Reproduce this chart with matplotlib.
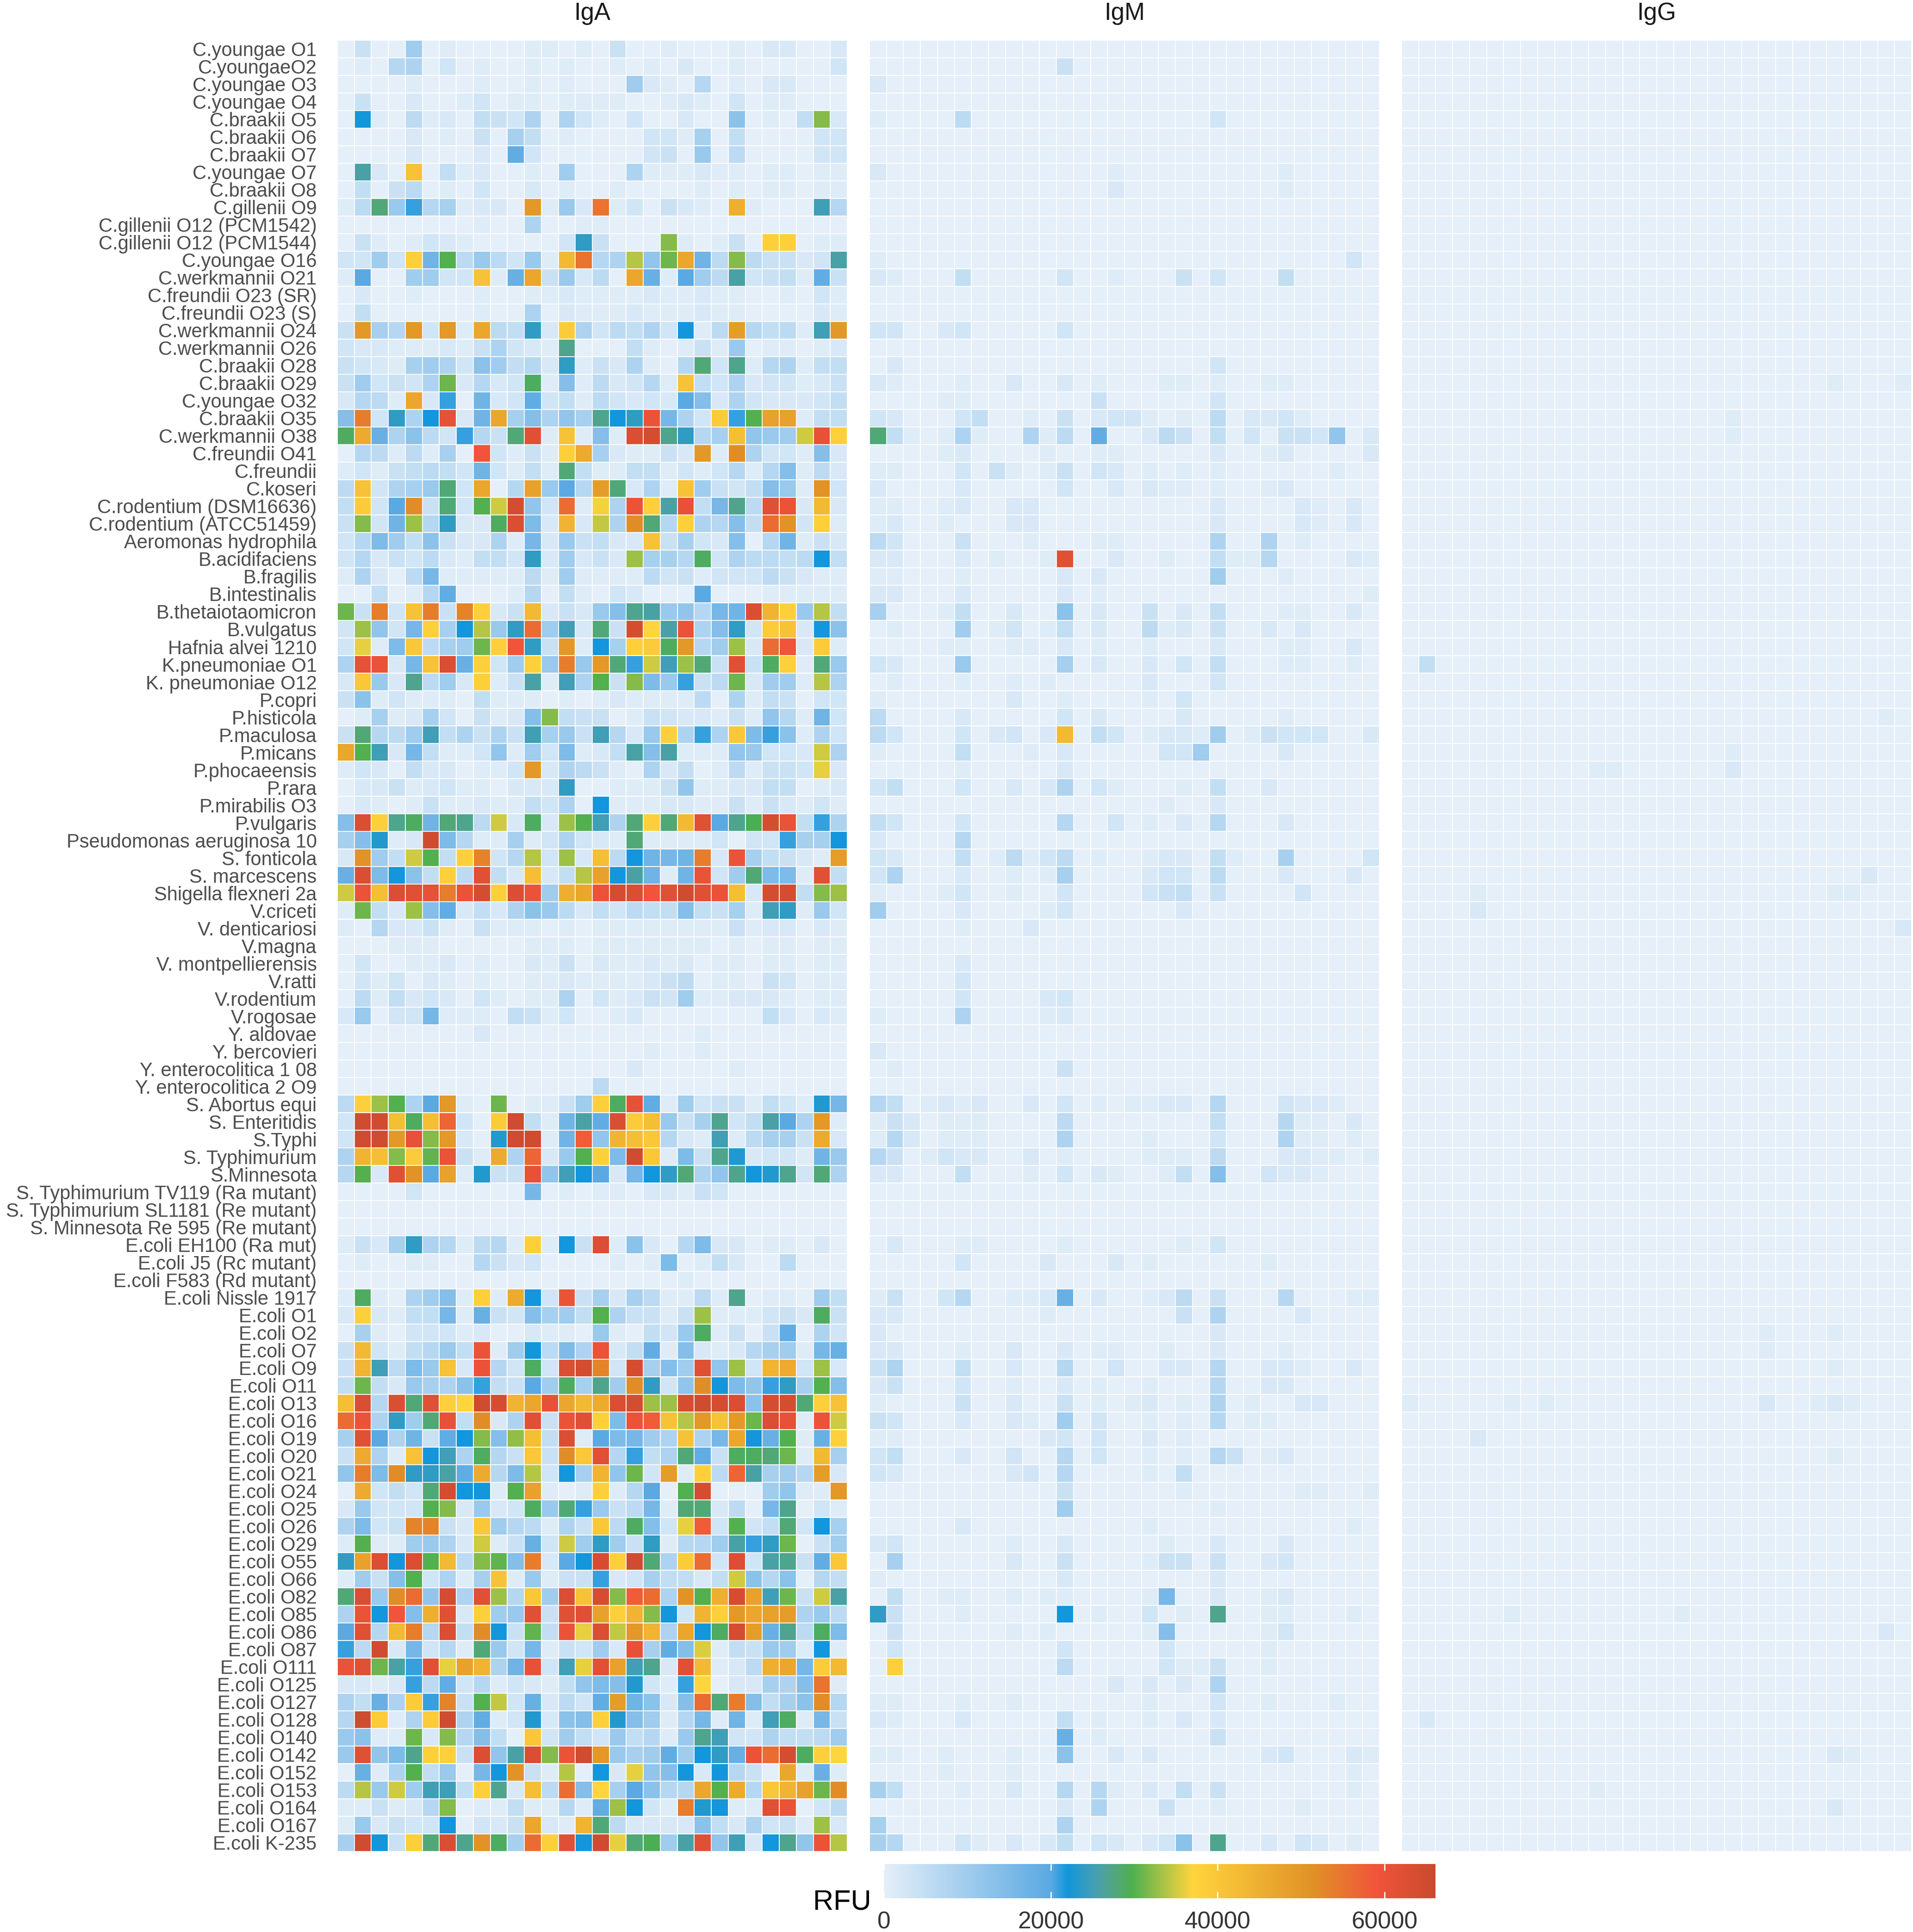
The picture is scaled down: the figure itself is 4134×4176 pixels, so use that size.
import numpy as np
import matplotlib
matplotlib.use('Agg')
import matplotlib.pyplot as plt
from matplotlib.colors import LinearSegmentedColormap

plt.rcParams['font.family'] = ['Liberation Sans', 'DejaVu Sans']

W, H = 4134, 4176
DPI = 100

strains = [
    'C.youngae O1', 'C.youngaeO2', 'C.youngae O3', 'C.youngae O4', 'C.braakii O5',
    'C.braakii O6', 'C.braakii O7', 'C.youngae O7', 'C.braakii O8', 'C.gillenii O9',
    'C.gillenii O12 (PCM1542)', 'C.gillenii O12 (PCM1544)', 'C.youngae O16',
    'C.werkmannii O21', 'C.freundii O23 (SR)', 'C.freundii O23 (S)', 'C.werkmannii O24',
    'C.werkmannii O26', 'C.braakii O28', 'C.braakii O29', 'C.youngae O32', 'C.braakii O35',
    'C.werkmannii O38', 'C.freundii O41', 'C.freundii', 'C.koseri', 'C.rodentium (DSM16636)',
    'C.rodentium (ATCC51459)', 'Aeromonas hydrophila', 'B.acidifaciens', 'B.fragilis',
    'B.intestinalis', 'B.thetaiotaomicron', 'B.vulgatus', 'Hafnia alvei 1210',
    'K.pneumoniae O1', 'K. pneumoniae O12', 'P.copri', 'P.histicola', 'P.maculosa',
    'P.micans', 'P.phocaeensis', 'P.rara', 'P.mirabilis O3', 'P.vulgaris',
    'Pseudomonas aeruginosa 10', 'S. fonticola', 'S. marcescens', 'Shigella flexneri 2a',
    'V.criceti', 'V. denticariosi', 'V.magna', 'V. montpellierensis', 'V.ratti',
    'V.rodentium', 'V.rogosae', 'Y. aldovae', 'Y. bercovieri', 'Y. enterocolitica 1 08',
    'Y. enterocolitica 2 O9', 'S. Abortus equi', 'S. Enteritidis', 'S.Typhi',
    'S. Typhimurium', 'S.Minnesota', 'S. Typhimurium TV119 (Ra mutant)',
    'S. Typhimurium SL1181 (Re mutant)', 'S. Minnesota Re 595 (Re mutant)',
    'E.coli EH100 (Ra mut)', 'E.coli J5 (Rc mutant)', 'E.coli F583 (Rd mutant)',
    'E.coli Nissle 1917', 'E.coli O1', 'E.coli O2', 'E.coli O7', 'E.coli O9', 'E.coli O11',
    'E.coli O13', 'E.coli O16', 'E.coli O19', 'E.coli O20', 'E.coli O21', 'E.coli O24',
    'E.coli O25', 'E.coli O26', 'E.coli O29', 'E.coli O55', 'E.coli O66', 'E.coli O82',
    'E.coli O85', 'E.coli O86', 'E.coli O87', 'E.coli O111', 'E.coli O125', 'E.coli O127',
    'E.coli O128', 'E.coli O140', 'E.coli O142', 'E.coli O152', 'E.coli O153', 'E.coli O164',
    'E.coli O167', 'E.coli K-235',
]

# IgA, thousands of RFU, one line per strain
iga = [
    [0,4,0,0,10,0,1,0,0,0,0,1,1,0,1,0,4,0,0,1,0,0,0,1,0,2,2,0,0,2],
    [0,1,0,7,8,0,3,0,1,0,0,1,0,1,0,0,1,0,1,0,2,0,0,1,0,0,0,0,0,3],
    [0,0,0,0,1,0,0,0,1,0,0,1,0,1,0,0,0,10,2,1,0,7,0,1,0,2,2,0,0,0],
    [0,4,0,0,2,0,0,1,3,0,1,1,0,1,1,1,1,0,0,1,2,1,0,3,0,1,1,0,0,0],
    [0,22,1,0,6,1,2,0,5,4,3,8,0,8,3,1,0,3,0,0,2,0,0,13,0,1,0,5,32,2],
    [0,0,0,0,2,0,1,0,4,0,9,5,0,1,0,0,0,0,3,3,1,9,0,5,0,0,0,0,3,3],
    [0,0,0,0,2,0,0,0,2,0,19,3,0,0,0,0,0,0,3,4,0,11,0,6,0,0,0,0,3,3],
    [0,26,2,0,41,0,5,1,2,0,0,1,0,10,0,0,0,8,1,1,1,2,1,1,0,1,1,0,1,1],
    [0,5,0,4,6,0,1,0,3,0,0,2,0,1,0,0,1,0,0,0,0,1,0,1,0,1,1,0,1,1],
    [1,6,28,11,21,7,9,1,2,2,0,50,1,11,2,55,1,3,0,4,2,1,0,45,1,0,0,0,25,7],
    [0,0,0,0,0,0,0,0,1,0,0,8,0,0,1,1,0,0,0,0,0,0,0,0,0,0,0,0,0,0],
    [0,4,1,0,1,3,2,1,0,0,0,0,0,3,24,4,0,0,0,32,1,0,1,4,0,38,38,0,1,1],
    [3,3,10,3,38,17,30,6,11,6,3,11,1,43,55,7,8,34,12,31,47,17,6,32,6,4,4,2,3,26],
    [1,20,0,0,10,10,3,3,41,1,18,47,4,11,2,6,0,47,18,1,20,10,6,26,3,4,5,1,19,4],
    [0,2,0,0,1,0,0,0,1,0,0,1,1,2,1,1,1,1,2,1,1,2,1,1,0,0,1,0,3,1],
    [0,5,0,0,0,0,0,0,1,0,0,8,0,2,1,1,1,2,1,1,1,2,1,1,0,0,0,0,2,1],
    [4,50,9,7,50,3,50,1,47,6,5,24,2,39,8,3,6,5,8,3,22,1,6,49,7,5,6,1,25,50],
    [3,2,2,1,1,1,2,1,4,8,3,2,1,27,0,0,0,5,1,0,1,4,1,11,0,1,1,0,1,2],
    [4,3,2,1,9,10,8,3,13,10,5,7,2,24,1,4,2,8,1,0,7,28,3,27,1,7,8,1,5,5],
    [4,10,3,4,3,8,31,2,7,2,3,29,1,14,1,6,2,3,7,1,41,5,3,8,2,3,3,1,2,4],
    [2,7,6,1,47,2,21,0,17,2,3,19,3,5,1,6,3,2,3,2,20,14,2,8,3,2,2,2,3,5],
    [14,54,3,24,8,22,61,2,17,47,9,14,8,12,9,27,22,24,60,16,8,3,39,21,30,48,48,1,5,5],
    [29,46,18,8,13,6,3,21,7,4,28,62,1,41,1,14,1,63,64,27,24,7,9,42,12,11,10,35,61,38],
    [0,7,6,1,6,1,9,0,59,3,1,4,1,38,46,9,2,1,1,4,2,50,1,52,8,3,3,1,14,2],
    [1,3,1,4,5,6,5,3,17,3,1,5,1,28,5,1,1,5,5,1,3,1,3,7,1,7,14,1,6,2],
    [6,41,3,8,9,11,28,3,47,0,7,48,11,20,7,49,28,2,8,1,41,10,4,3,5,14,11,1,51,3],
    [5,39,3,20,52,4,28,3,30,35,64,12,3,56,1,36.5,8,60,38,26,61,5,16,27,6,62,60,2,43,2],
    [4,32,3,17,33,7,24,2,2,29,63,15,2,44,2,34.5,8,52,28,7,38,8,7,14,5,56,51,3,38,1],
    [3,7,15,10,5,13,4,2,2,8,1,16,2,11,4,5,2,2,41,4,9,3,2,14,0,7,17,1,4,2],
    [3,7,2,4,3,6,2,1,5,5,3,24,2,10,2,4,2,33,9,9,7,29,3,8,6,6,5,6,22,5],
    [1,8,2,0,6,16,1,1,1,1,1,6,1,10,1,1,1,1,6,3,4,1,3,3,3,6,4,2,1,1],
    [0,0,5,0,1,7,19,0,0,0,1,7,0,5,1,0,3,2,0,0,0,20,0,0,0,1,1,1,1,1],
    [31,4,54,3,41,54,4,53,38,2,4,43,2,4,2,11,14,27,26,11,12,7,16,17,63,44,38,11,34,5],
    [3,33,12,3,16,38,9,22,34,11,24,56,10,25,2,28,4,64,37,26,60,8,14,24,3,39,41,2,22,13],
    [3,36,1,15,40,6,9,10,31,38,59,24,4,50,1,22,9,38,39,29,50,7,10,33,2,56,59,2,39,1],
    [8,61,60,2,16,41,63,18,38,3,10,38,11,54,11,50,28,21,35,25,33,28,4,62,4,29,38,1,28,11],
    [2,40,11,2,27,6,10,2,38,1,4,26,1,25,8,30,4,32,15,11,21,4,6,31,2,10,10,1,34,8],
    [4,13,1,3,1,1,1,0,5,1,1,1,0,1,0,1,2,1,1,1,1,6,0,8,1,5,4,0,3,3],
    [0,1,9,1,2,9,3,0,4,1,2,14,32,5,4,4,0,1,4,3,2,2,1,4,1,12,7,1,17,3],
    [4,28,7,6,10,25,5,8,4,8,4,25,9,11,4,25,7,2,11,38,8,21,8,40,15,21,13,1,8,3],
    [47,30,25,2,16,5,1,1,3,12,1,10,3,15,1,2,5,26,14,26,1,1,1,12,11,3,3,2,35,8],
    [1,3,2,0,5,2,2,0,1,1,3,50,2,8,6,4,1,0,8,2,5,0,1,6,1,4,4,3,36,2],
    [0,2,2,4,1,2,3,1,1,0,2,2,2,24,0,0,1,1,1,4,12,1,1,2,2,5,5,0,1,2],
    [0,2,1,0,1,4,1,1,2,1,1,5,3,8,0,22,1,1,1,2,2,1,1,4,1,4,2,1,3,1],
    [14,63,38,27,29,17,28,27,6,35,2,29,2,33,30,25,8,28,38,28,43,62,20,27,29.5,64,60,5,21,8],
    [9,14,23,1,2,65,15,7,1,1,9,1,3,8,3,2,1,28,1,1,1,1,3,0,3,3,21,9,9,22],
    [2,51,10,5,35,30,5,38,53,3,7,34,3,33,2,42,6,22,17,16,17,54,2,60,9,5,4,2,1,49],
    [18,63,15,22,13,5,38,6,62,5,2,42,2,5,34,48,22,26,17,1,17,60,3,10,28,15,15,1,62,5],
    [35,60,42,63,62,61,54,60,64,38,63,60,10,45,47,60,64,63,59,62,65,62,60,42,2,64,64,5,32,33],
    [1,31,5,2,33,14,19,2,5,2,8,13,11,6,2,5,3,6,5,5,14,5,4,9,1,25,24,1,11,3],
    [1,0,7,2,2,4,1,0,4,1,1,1,0,1,0,1,1,1,1,1,1,1,1,4,1,2,2,0,2,1],
    [0,0,0,1,1,1,0,0,0,0,0,1,1,1,0,1,1,1,1,1,1,1,0,1,0,1,1,0,1,1],
    [0,3,0,0,1,1,2,0,1,0,0,2,1,4,0,2,1,1,2,1,2,0,1,1,0,1,1,0,1,1],
    [0,3,1,3,0,2,1,0,1,0,0,1,1,2,1,1,1,1,2,4,6,0,1,1,0,4,3,0,1,1],
    [0,6,1,5,2,3,2,0,3,1,0,1,1,8,0,3,1,2,4,3,10,1,1,2,2,2,1,0,1,1],
    [2,11,0,3,3,16,1,1,1,0,5,4,1,3,0,0,1,2,0,0,0,0,0,0,0,5,2,0,2,1],
    [0,0,0,0,0,0,0,0,2,0,0,0,0,0,0,0,0,0,0,0,0,1,0,0,0,0,0,0,0,0],
    [0,0,0,0,0,0,0,0,0,0,0,0,0,0,0,0,0,0,1,0,0,1,0,0,0,0,0,0,0,0],
    [0,0,0,0,0,0,0,0,0,0,0,0,0,0,0,0,0,2,0,0,0,0,0,1,0,0,0,0,0,0],
    [0,0,0,0,0,0,0,0,0,0,0,0,0,0,0,6,0,0,0,0,0,0,0,0,0,0,0,0,0,0],
    [6,38,33,30,8,20,50,1,0,31,0,1,1,4,10,38,29,61,19,1,10,3,4,4,1,5,3,1,23,16],
    [3,65,65,42,29,42,57,3,0,39,65,5,1,17,26,19,63,39,42,11,4,9,27,3,5,26,20,8,50,1],
    [3,65,65,50,61,32,50,2,0,23,65,65,1,17,58,12,44,42,40,7,2,1,25,1,6,9,9,4,46,2],
    [8,44,42,32,39,30.5,60,4,1,46,8,57,2,11,30,38,15,65,40,1,15,4,27,23,2,3,3,1,17,11],
    [7,30,2,62,51,20,48,1,23,4,4,61,12,25,22,20,2,16,22,24,28,8,12,27,22,23,27,3,28,8],
    [0,0,0,0,3,0,0,0,0,0,0,16,0,1,0,1,1,0,2,2,1,4,3,0,0,0,0,0,0,0],
    [0,0,0,0,0,0,0,0,0,0,0,0,0,0,0,0,0,0,0,0,0,0,0,0,0,0,0,0,0,0],
    [0,0,0,0,0,0,0,0,0,0,0,0,0,0,0,0,0,0,0,0,0,0,0,0,0,0,0,0,0,0],
    [1,4,2,9,24,8,7,1,6,7,1,38,1,22,4,63,1,13,2,0,7,15,2,2,0,1,1,0,2,0],
    [0,1,0,0,1,1,0,0,7,4,2,3,0,0,0,0,1,0,1,15,0,1,5,2,0,0,6,0,0,0],
    [0,0,0,0,0,0,0,0,0,0,0,0,0,0,0,0,0,0,0,0,1,0,0,0,0,0,0,0,0,0],
    [1,29,1,0,8,10,14,1,38,1,46,22,3,60,4,9,2,9,6,1,1,6,1,27,0,1,1,0,10,5],
    [2,38,2,1,5,5,16,1,18,4,3,14,9,10,5,30,8,4,4,1,4,33,1,1,1,3,4,2,29,4],
    [0,9,1,0,3,3,3,1,2,0,0,2,1,1,0,11,1,0,5,3,11,29,1,4,0,4,19,0,8,3],
    [4,43,3,1,5,7,11,5,60,1,10,22,6,15,8,60,2,5,19,1,14,2,1,2,7,9,10,1,16,18],
    [4,44,25,6,15,11,41,2,60,7,3,29,3,63,64,53,3,64,9,14,10,62,12,33,3,44,46,3,33,2],
    [5,31,5,2,11,9,8,13,21,5,4,20,10,29,9,27,10,52,24,3,12,52,22,15,12,21,24,9,30,14],
    [42,63,7,63,28,62,38,37,65,64,44,47,61,47,43,46,63,64,33,33,64,65,64,63,13,64,64,28,38,41],
    [56,60,8,24,10,28,61,5,52,2,8,62,4,60,62,38,15,60,58,41,34,50,41,50,31,63,61,1,60,35],
    [9,62,20,8,17,4,19,22,32,14,32.5,42,5,63,1,20,15,16,10,8,41,8,16,47,22,18,30,1,18,38],
    [4,46,8,1,41,22,25,8,29,7,4,40,4,52,40,62,7,21,5,8,28,19,4,29,29,28,31,1,43,9],
    [12,54,15,52,24,24,26,19,46,7,15,34,3,22,9,44,12,31,3,49,1,38,6,57,26,9,10,7,49,2],
    [0,46,3,5,3,28,64,22,22,1,30,48,1,0,1,38,1,7,20,0,30,64,0,0,0,10,12,1,1,50],
    [2,11,3,3,3,30,32,2,11,2,3,29,11,28,21,11,4,6,16,1,28,28,2,6,0,16,27,0,3,1],
    [8,15,3,4,53,53,4,2,40,10,7,6,1,8,4,40,6,29,14,3,36,58,3,30,3,5,28,3,22,9],
    [1,30,1,1,10,11,8,2,35,1,4,18,3,35,10,24,10,4,24,1,7,7,10,26,21,24,31,0,4,10],
    [24,48,63,22,63,30,43,6,32,30.5,14,54,2,20,22,64,38,65,28,8,39,56,3,63,3,26,27,4,19,40],
    [1,10,4,14,30,3,8,1,9,41,1,11,1,4,4,21,2,3,9,5,5,2,5,35,13,7,13,0,7,5],
    [28,63,11,52,56,12,64,8,62,33,7,40,10,63,41,64,32,58,56,8,51,30,45,64,48,25,31,4,35,26],
    [8,60,22,59,14,45,62,2,38,10,11,62,4,62,62,48,38,44,32,22,3,44,38,50,47,48,49,8,11,6],
    [20,62,7,43,54,7,63,5,52,22,4,30.5,5,60,36,63,34.5,50,44,8,47,22,29,64,49,18,27,6,29,15],
    [21,6,65,2,16,3,7,1,28,11,3,16,1,4,3,10,2,61,9,19,14,35.5,1,5,4,11,10,1,22,1],
    [60,62,31,26,21,62,36,48,44,8,17,61,3,25,36,62,48,25,27,2,62,43,1,2,6,45,47,16,39,43],
    [2,2,1,2,21,6,19,3,7,1,3,2,1,5,12,15,14,23,3,1,21,37,0,2,2,9,8,14,55,1],
    [8,5,18,8,39,21,53,4,30,34.5,3,18,2,6,3,19,49,17,13,2,14,56,28,54,14,5,9,13,52,7],
    [7,65,39,1,8,39,65,8,19,1,3,23,2,13,14,38,23,14,10,1,7,16,1,17,1,25,29,1,16,4],
    [11,13,1,1,31,2,32,7,14,5,0,40,3,10,5,3,11,5,7,1,11,27,25,3,3,8,5,5,6,10],
    [11,62,12,15,27,38,38,4,63,12,26,63,32,60,65,50,11,9,10,19,10,22,24,18,60,56,64,29,38,37],
    [0,18,1,8,30,5,11,0,16,22,51,4,1,34,0,22,2,36,12,14,22,2,22,7,4,0,47,1,18,1],
    [6,34,11,35,10,25,25,5,38,27,2,42,6,56,14,37,9,20,13,7,7,47,30,46,7,40,44,48,31,52],
    [1,1,4,1,2,7,32,0,1,1,5,1,1,7,1,19,33,22,3,1,54,23,22,1,1,62,60,0,3,6],
    [1,11,2,4,3,3,22,0,3,2,4,47,2,1,44,28,6,2,2,2,2,13,5,2,8,3,4,1,33,2],
    [9,65,22,4,38,28,63,27,51,29,9,56,38,62,22,65,36,28,29.5,10,26,62,12,25,2,22,27,12,60,34],
]

# IgM and IgG are nearly flat: strain index (from 1) -> {column: thousands of RFU}
igm = {
    2: {11: 4}, 3: {0: 2}, 5: {0: 1, 5: 6, 20: 3}, 8: {0: 2, 14: 1, 24: 1}, 9: {14: 2, 24: 1},
    13: {0: 1, 28: 3}, 14: {0: 2, 1: 1, 5: 5, 11: 3, 14: 1, 18: 4, 20: 3, 24: 5},
    17: {0: 3, 1: 3, 4: 2, 5: 3, 11: 3}, 19: {1: 2, 20: 3},
    20: {0: 2, 1: 1, 5: 1, 8: 2, 11: 2, 13: 1, 17: 1, 18: 1, 20: 1, 23: 1, 24: 1},
    21: {4: 1, 5: 1, 13: 4, 20: 3},
    22: {0: 3, 1: 2, 5: 3, 6: 5, 9: 1, 11: 4, 13: 2, 14: 3, 15: 3, 16: 1, 18: 1, 20: 6, 22: 2, 23: 2, 24: 3, 25: 1},
    23: {0: 28, 1: 5, 2: 1, 4: 1, 5: 8, 6: 1, 9: 8, 10: 1, 11: 6, 13: 19, 16: 2, 17: 6, 18: 4, 20: 5, 22: 3, 24: 4, 25: 4, 26: 3, 27: 12, 29: 2},
    24: {4: 1, 5: 2, 10: 1, 13: 1, 14: 1, 20: 2, 23: 1, 24: 2, 29: 2},
    25: {0: 1, 1: 1, 5: 3, 7: 4, 8: 1, 10: 1, 11: 4, 13: 3, 14: 2, 16: 1, 18: 1, 20: 1, 27: 1},
    26: {0: 2, 5: 2, 11: 3, 14: 2, 16: 2, 17: 1, 18: 1, 20: 1, 23: 1, 24: 2},
    27: {0: 1, 1: 1, 4: 1, 5: 2, 8: 2, 9: 2, 20: 2, 25: 2, 26: 1, 28: 2},
    28: {0: 1, 1: 2, 4: 1, 8: 2, 9: 2, 20: 2, 25: 2, 26: 1, 28: 2},
    29: {0: 6, 1: 3, 5: 4, 9: 1, 13: 1, 14: 1, 20: 8, 23: 8, 25: 1},
    30: {0: 2, 1: 2, 5: 2, 7: 1, 10: 1, 11: 62, 14: 2, 17: 1, 20: 5, 21: 1, 22: 1, 23: 7, 28: 2, 29: 1},
    31: {0: 1, 1: 1, 5: 1, 11: 2, 13: 2, 20: 10, 24: 1},
    32: {0: 2, 1: 2, 5: 2, 11: 2, 13: 1, 29: 1},
    33: {0: 9, 4: 1, 5: 5, 8: 2, 11: 13, 13: 2, 16: 4, 18: 2, 20: 5, 24: 1, 25: 1, 28: 2},
    34: {1: 1, 5: 10, 7: 1, 8: 3, 10: 1, 11: 5, 13: 2, 16: 6, 17: 1, 18: 2, 20: 4, 23: 2, 25: 2},
    35: {4: 1, 5: 1, 8: 1, 9: 1, 11: 2, 13: 1, 16: 1, 20: 2, 24: 1, 25: 1, 28: 2},
    36: {0: 3, 1: 2, 5: 11, 11: 9, 13: 2, 16: 2, 18: 3, 20: 5, 24: 1, 25: 1, 28: 1},
    37: {1: 1, 5: 1, 8: 1, 10: 1, 16: 2, 20: 3},
    38: {0: 1, 8: 2, 11: 1, 16: 1, 18: 3},
    39: {0: 6, 5: 2, 11: 3, 13: 2, 18: 2, 24: 1},
    40: {0: 6, 1: 3, 5: 3, 7: 2, 8: 3, 10: 2, 11: 43, 13: 5, 14: 3, 16: 1, 17: 2, 18: 2, 19: 1, 20: 10, 22: 1, 23: 4, 24: 3, 25: 3, 26: 3, 29: 2},
    41: {0: 1, 5: 5, 9: 1, 11: 2, 17: 3, 18: 3, 19: 10, 24: 2},
    42: {5: 1, 11: 2},
    43: {0: 3, 1: 5, 5: 3, 8: 2, 10: 2, 11: 8, 13: 3, 14: 1, 18: 1, 20: 5, 23: 2},
    44: {17: 1, 20: 2},
    45: {0: 5, 1: 3, 5: 3, 11: 7, 14: 3, 16: 1, 18: 2, 20: 7, 24: 2},
    46: {0: 2, 5: 7},
    47: {0: 3, 1: 2, 5: 5, 7: 1, 8: 6, 9: 1, 10: 3, 11: 6, 13: 1, 16: 1, 17: 2, 18: 2, 20: 5, 21: 1, 24: 9, 29: 3},
    48: {0: 3, 1: 8, 5: 2, 8: 1, 10: 1, 11: 9, 16: 2, 17: 3, 18: 3, 20: 6, 24: 2, 28: 2},
    49: {0: 1, 4: 1, 5: 3, 8: 1, 11: 3, 16: 3, 17: 4, 18: 5, 20: 4, 25: 3},
    50: {0: 10, 5: 2, 10: 1, 11: 3, 18: 2},
    51: {5: 1, 9: 2}, 53: {5: 2}, 54: {5: 3}, 55: {5: 3, 10: 2, 11: 3},
    56: {0: 1, 5: 8, 10: 1, 11: 2}, 58: {0: 2}, 59: {1: 1, 11: 4},
    61: {0: 7, 1: 5, 3: 1, 4: 2, 5: 1, 6: 2, 9: 2, 11: 3, 13: 1, 15: 1, 16: 1, 17: 2, 18: 2, 20: 7, 24: 3, 25: 2, 26: 2, 27: 1},
    62: {0: 1, 1: 4, 2: 2, 4: 1, 5: 1, 6: 1, 11: 6, 20: 5, 24: 7, 25: 1, 26: 1, 28: 2},
    63: {0: 1, 1: 7, 2: 2, 4: 1, 5: 1, 6: 1, 11: 8, 16: 1, 20: 3, 24: 8, 25: 1, 26: 1, 28: 1},
    64: {0: 7, 1: 4, 3: 1, 4: 3, 5: 2, 6: 2, 9: 2, 11: 1, 16: 1, 17: 1, 18: 1, 20: 6, 24: 2, 25: 2, 26: 1, 27: 1, 29: 1},
    65: {0: 2, 1: 2, 5: 5, 9: 1, 11: 3, 13: 2, 14: 1, 17: 1, 18: 5, 20: 14, 23: 3, 24: 2, 25: 2, 26: 1},
    69: {1: 2, 5: 1, 6: 1, 11: 1, 18: 1, 20: 3},
    70: {5: 3, 10: 2, 14: 2, 16: 1, 23: 1},
    72: {0: 1, 1: 4, 4: 3, 5: 7, 8: 1, 9: 1, 10: 2, 11: 18, 13: 2, 16: 1, 17: 2, 18: 6, 20: 4, 24: 7, 28: 1, 29: 1},
    73: {0: 2, 1: 2, 10: 1, 18: 4, 20: 8, 25: 2},
    74: {0: 2, 20: 2},
    75: {0: 2, 1: 2, 5: 1, 8: 2, 11: 2, 13: 1, 14: 1, 17: 1, 20: 2, 24: 1},
    76: {0: 4, 1: 8, 5: 5, 8: 2, 11: 7, 14: 3, 17: 2, 18: 2, 20: 7, 23: 2, 24: 2, 25: 1, 28: 2},
    77: {0: 2, 1: 4, 5: 3, 8: 1, 11: 2, 13: 1, 16: 1, 20: 7, 23: 2, 24: 2},
    78: {0: 1, 5: 4, 8: 2, 11: 4, 13: 1, 15: 1, 16: 2, 18: 1, 20: 8, 22: 1, 25: 2, 26: 2},
    79: {0: 4, 1: 3, 5: 2, 8: 2, 9: 1, 11: 10, 13: 3, 16: 1, 18: 1, 20: 7, 22: 1, 23: 1},
    80: {0: 1, 1: 1, 10: 2, 11: 3, 13: 3, 16: 2, 18: 1},
    81: {0: 3, 1: 5, 5: 2, 8: 3, 11: 7, 13: 3, 16: 1, 18: 1, 20: 7, 21: 4, 23: 1, 24: 2},
    82: {0: 3, 1: 2, 8: 2, 9: 3, 11: 7, 16: 1, 18: 5},
    83: {11: 4, 18: 1, 25: 1, 26: 1, 29: 1},
    84: {11: 10, 20: 1},
    85: {5: 2, 16: 1, 28: 1},
    86: {0: 2, 1: 3, 8: 1, 11: 2, 17: 1, 20: 2, 24: 2},
    87: {1: 9, 8: 2, 11: 4, 16: 1, 17: 4, 18: 4, 20: 4, 23: 2, 24: 3},
    88: {0: 1, 11: 2, 20: 2},
    89: {1: 5, 4: 1, 5: 1, 8: 1, 10: 1, 11: 1, 16: 1, 17: 16, 20: 2, 23: 1, 24: 2},
    90: {0: 24, 1: 4, 5: 1, 11: 22, 13: 1, 16: 3, 18: 1, 20: 27, 23: 1, 24: 1, 28: 1},
    91: {1: 4, 8: 1, 10: 1, 16: 1, 17: 14, 23: 1, 24: 3},
    92: {1: 3, 11: 3, 17: 3, 23: 1},
    93: {1: 38, 11: 6, 17: 3, 18: 1, 19: 1, 20: 4, 23: 1},
    94: {14: 2, 16: 2, 18: 2, 20: 8},
    95: {0: 1, 1: 1, 5: 1, 8: 1, 16: 1, 20: 3, 23: 1, 27: 1},
    96: {0: 2, 1: 1, 5: 2, 11: 5, 13: 1, 16: 1, 18: 2, 20: 2},
    97: {11: 18, 13: 1, 20: 4},
    98: {0: 1, 1: 1, 4: 1, 8: 1, 11: 13, 14: 2, 16: 2, 23: 2, 24: 3, 28: 2, 29: 1},
    99: {4: 1, 8: 1, 28: 1},
    100: {0: 9, 1: 5, 5: 1, 8: 2, 11: 7, 13: 7, 14: 1, 16: 2, 18: 5, 20: 4, 28: 1},
    101: {11: 2, 13: 8, 17: 4, 20: 1, 25: 1},
    102: {0: 9, 11: 8},
    103: {0: 9, 1: 7, 5: 3, 6: 1, 8: 2, 10: 2, 11: 5, 13: 3, 14: 2, 16: 2, 17: 3, 18: 13, 20: 27, 23: 2, 25: 3, 26: 2, 28: 1},
}

igg = {
    20: {25: 1, 29: 1}, 22: {19: 1}, 23: {19: 1}, 36: {1: 5}, 39: {28: 1}, 41: {19: 1},
    42: {11: 1, 12: 1, 19: 2}, 48: {27: 2}, 49: {4: 1, 25: 1, 26: 1}, 50: {4: 2}, 51: {29: 2},
    74: {21: 1, 25: 1}, 75: {21: 1}, 76: {25: 1}, 78: {0: 1, 6: 1, 8: 1, 21: 2, 24: 1, 25: 2, 26: 1},
    80: {4: 2}, 81: {25: 1}, 90: {6: 1, 16: 1}, 91: {28: 2}, 96: {1: 2}, 98: {25: 2, 26: 1},
    100: {11: 1}, 101: {25: 2},
}

panel_names = ['IgA', 'IgM', 'IgG']
panel_lefts = [729, 1879, 3029]
cbar_ticks = [0, 20000, 40000, 60000]

# gradient stops, in RFU
stops = [0, 20000, 22000, 25500, 27600, 29700, 37000, 51500, 59000, 66100]
stop_colors = ['#E5EFF9', '#5AA9E2', '#1296DB', '#479FB0', '#52A680', '#4CAF50',
               '#FFD53D', '#E09126', '#F1543A', '#C94A2E']
vmax = stops[-1]
cmap = LinearSegmentedColormap.from_list('rfu', [(s / vmax, c) for s, c in zip(stops, stop_colors)], N=1024)


def sparse_to_matrix(cells):
    mat = np.zeros((len(strains), 30))
    for row, cols in cells.items():
        for col, val in cols.items():
            mat[row - 1, col] = val
    return mat


def px_axes(fig, left, top, right, bottom):
    return fig.add_axes([left / W, 1 - bottom / H, (right - left) / W, (bottom - top) / H])


fig = plt.figure(figsize=(W / DPI, H / DPI), dpi=DPI)

matrices = [np.array(iga, dtype=float), sparse_to_matrix(igm), sparse_to_matrix(igg)]
mesh = None
for i, name in enumerate(panel_names):
    ax = px_axes(fig, panel_lefts[i], 86.5, panel_lefts[i] + 1102, 4002)
    mesh = ax.pcolormesh(matrices[i] * 1000, cmap=cmap, vmin=0, vmax=vmax,
                         edgecolors='white', linewidth=1.1)
    ax.set_ylim(len(strains), 0)
    ax.set_xticks([])
    if i == 0:
        ax.set_yticks(np.arange(len(strains)) + 0.5)
        ax.set_yticklabels(strains, fontsize=30, color='#4D4D4D')
        ax.tick_params(axis='y', length=0, pad=32)
    else:
        ax.set_yticks([])
    for s in ax.spines.values():
        s.set_visible(False)
    ax.set_title(name, fontsize=38, color='#1A1A1A', pad=31)

cax = px_axes(fig, 1910, 4029, 3102, 4103)
cbar = fig.colorbar(mesh, cax=cax, orientation='horizontal')
cbar.set_ticks(cbar_ticks)
cbar.ax.set_xticklabels([str(t) for t in cbar_ticks], fontsize=37, color='#333333')
cbar.ax.tick_params(axis='x', direction='in', color='white', length=10, width=2,
                    top=True, bottom=True, pad=20)
cbar.outline.set_visible(False)
fig.text(1820 / W, 1 - 4112 / H, 'RFU', fontsize=44, color='black', ha='center', va='center')

fig.savefig('out.png', dpi=DPI, facecolor='white')
